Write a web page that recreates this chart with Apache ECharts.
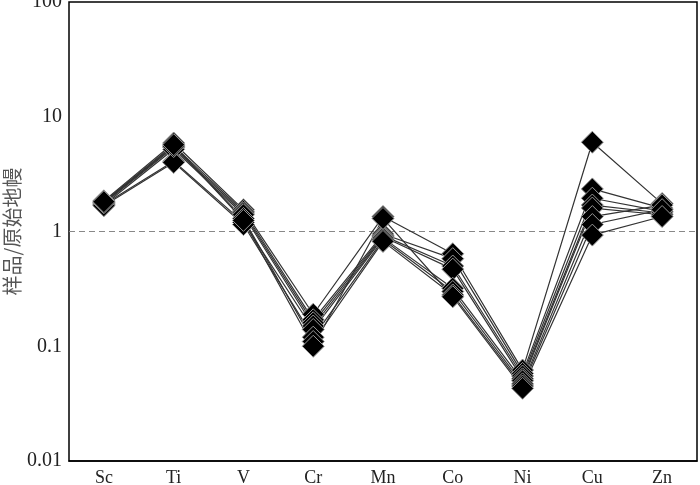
<!DOCTYPE html>
<html>
<head>
<meta charset="utf-8">
<script src="https://cdn.jsdelivr.net/npm/echarts@6/dist/echarts.min.js"></script>
<style>
  html, body { margin: 0; padding: 0; background: #fff; }
  #chart { width: 700px; height: 485px; }
</style>
</head>
<body>
<div id="chart"></div>
<script>
  // categories and sample values (normalised to primitive mantle)
  var elements = ["Sc", "Ti", "V", "Cr", "Mn", "Co", "Ni", "Cu", "Zn"];
  var yTicks = [0.01, 0.1, 1, 10, 100];

  var s1 = [1.85, 5.9, 1.55, 0.19, 1.35, 0.64, 0.062, 6.0, 1.75];
  var s2 = [1.8, 5.6, 1.5, 0.17, 0.95, 0.58, 0.058, 2.35, 1.6];
  var s3 = [1.75, 5.4, 1.45, 0.16, 0.92, 0.5, 0.055, 1.95, 1.5];
  var s4 = [1.7, 5.2, 1.4, 0.15, 0.9, 0.47, 0.052, 1.7, 1.45];
  var s5 = [1.72, 4.1, 1.2, 0.14, 0.88, 0.32, 0.05, 1.6, 1.4];
  var s6 = [1.68, 4.0, 1.15, 0.12, 0.85, 0.3, 0.047, 1.35, 1.7];
  var s7 = [1.78, 5.5, 1.3, 0.11, 0.82, 0.28, 0.045, 1.15, 1.55];
  var s8 = [1.82, 5.7, 1.25, 0.1, 1.3, 0.27, 0.043, 0.93, 1.35];
  var samples = [s1, s2, s3, s4, s5, s6, s7, s8];

  var chart = echarts.init(document.getElementById("chart"));

  var series = samples.map(function (d, i) {
    var s = {
      type: "line",
      data: d,
      symbol: "diamond",
      symbolSize: 22,
      lineStyle: { color: "#333", width: 1.2 },
      itemStyle: { color: "#000", borderColor: "#999", borderWidth: 1 },
      emphasis: { disabled: true },
      z: 3
    };
    if (i === 0) {
      s.markLine = {
        silent: true,
        symbol: "none",
        label: { show: false },
        lineStyle: { color: "#888", type: [6, 4], width: 1 },
        data: [{ yAxis: 1 }],
        z: 1
      };
    }
    return s;
  });

  var option = {
    animation: false,
    grid: {
      left: 69, right: 3, top: 2, bottom: 24,
      outerBoundsMode: "none",
      containLabel: false,
      show: true, borderColor: "#000", borderWidth: 1.5
    },
    xAxis: {
      type: "category",
      data: elements,
      boundaryGap: true,
      axisLine: { lineStyle: { color: "#000", width: 1.5 } },
      axisTick: { inside: true, alignWithLabel: true, length: 7, lineStyle: { color: "#000", width: 1.5 } },
      axisLabel: { color: "#222", fontFamily: "Liberation Serif", fontSize: 18, margin: 8 },
      splitLine: { show: false }
    },
    yAxis: {
      type: "log",
      logBase: 10,
      min: yTicks[0],
      max: yTicks[yTicks.length - 1],
      name: "样品/原始地幔",
      nameLocation: "middle",
      nameGap: 47,
      nameMoveOverlap: false,
      nameTextStyle: { color: "#555", fontFamily: "Noto Sans CJK SC", fontSize: 20 },
      axisLine: { lineStyle: { color: "#000", width: 1.5 } },
      axisTick: { inside: true, length: 8, lineStyle: { color: "#000", width: 1.5 } },
      minorTick: { show: false },
      axisLabel: {
        color: "#222", fontFamily: "Liberation Serif", fontSize: 20, margin: 7,
        formatter: function (v) { return String(+v.toPrecision(3)); }
      },
      splitLine: { show: false }
    },
    series: series
  };

  chart.setOption(option);
</script>
</body>
</html>
